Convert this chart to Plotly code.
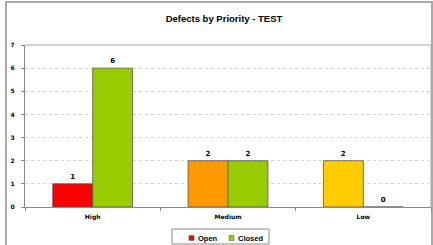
import plotly.graph_objects as go

categories = ["High", "Medium", "Low"]
open_vals = [1, 2, 2]
closed_vals = [6, 2, 0]
open_colors = ["#FF0000", "#FF9900", "#FFCC00"]
closed_color = "#99CC00"
y_ticks = [0, 1, 2, 3, 4, 5, 6, 7]
legend_names = ["Open", "Closed"]
legend_colors = [open_colors[0], closed_color]

W, H = 433, 245
ml, mr, mt, mb = 25, 2, 45, 38
pw, ph = W - ml - mr, H - mt - mb

def px(x):
    return (x - ml) / pw

def py(y):
    return (H - mb - y) / ph

txtfont = dict(family="DejaVu Sans", size=7, color="#000", weight="bold")

fig = go.Figure()
fig.add_trace(go.Bar(
    name="Open", x=categories, y=open_vals, showlegend=False,
    marker=dict(color=open_colors, line=dict(color="#555555", width=0.8)),
    text=[str(v) for v in open_vals], textposition="outside",
    textfont=txtfont, cliponaxis=False,
))
fig.add_trace(go.Bar(
    name="Closed", x=categories, y=closed_vals, showlegend=False,
    marker=dict(color=closed_color, line=dict(color="#555555", width=0.8)),
    text=[str(v) for v in closed_vals], textposition="outside",
    textfont=txtfont, cliponaxis=False,
))

shapes = [
    dict(type="rect", xref="paper", yref="paper",
         x0=px(6), x1=px(432), y0=py(247), y1=py(2),
         line=dict(color="#AAAAAA", width=2), fillcolor="rgba(0,0,0,0)", layer="below"),
    dict(type="line", xref="paper", yref="paper", x0=0, x1=1, y0=1, y1=1,
         line=dict(color="#AAAAAA", width=1)),
    dict(type="line", xref="paper", yref="paper", x0=1, x1=1, y0=0, y1=1,
         line=dict(color="#AAAAAA", width=1)),
    # legend box
    dict(type="rect", xref="paper", yref="paper",
         x0=px(172), x1=px(269), y0=py(244), y1=py(229),
         line=dict(color="#888888", width=1), fillcolor="white"),
]
annotations = []
key_x = [189, 229]
for name, col, kx in zip(legend_names, legend_colors, key_x):
    shapes.append(dict(type="rect", xref="paper", yref="paper",
                       x0=px(kx), x1=px(kx + 5), y0=py(240.5), y1=py(235.5),
                       line=dict(color="#555555", width=0.5), fillcolor=col))
    annotations.append(dict(text="<b>" + name + "</b>", xref="paper", yref="paper",
                            x=px(kx + 7), y=py(238), xanchor="left", yanchor="middle",
                            showarrow=False,
                            font=dict(family="Liberation Sans Narrow, Liberation Sans, Arial",
                                      size=7.5, color="#000")))

fig.update_layout(
    width=W, height=H,
    margin=dict(l=ml, r=mr, t=mt, b=mb, pad=0, autoexpand=False),
    paper_bgcolor="white", plot_bgcolor="white",
    barmode="group", bargap=0.41, bargroupgap=0,
    title=dict(text="<b>Defects by Priority - TEST</b>", xref="container", x=224 / W, xanchor="center",
               yref="container", y=1 - 19 / H, yanchor="middle",
               font=dict(family="Liberation Sans Narrow, Liberation Sans, Arial", size=9.5, color="#000")),
    font=dict(family="DejaVu Sans", size=6, color="#000"),
    showlegend=False,
    shapes=shapes,
    annotations=annotations,
)

fig.update_xaxes(
    type="category", automargin=False, showline=True, linecolor="#888888", linewidth=1,
    ticks="outside", tickson="boundaries", ticklen=3, tickcolor="#888888",
    tickfont=dict(family="DejaVu Sans", size=6, color="#000", weight="bold"),
    ticklabelstandoff=4,
    showgrid=False, zeroline=False,
)
fig.update_yaxes(
    range=[0, 7], tickvals=y_ticks, automargin=False, showline=True, linecolor="#888888", linewidth=1,
    ticks="outside", ticklen=3, tickcolor="#888888",
    tickfont=dict(family="DejaVu Sans", size=6, color="#000", weight="bold"),
    ticklabelstandoff=5,
    showgrid=True, gridcolor="#D4D4D4", griddash="dot", gridwidth=1,
    zeroline=False,
)

fig.write_html("out.html", config={"displayModeBar": False},
               post_script="document.body.style.margin='0';document.body.style.overflow='hidden';")
